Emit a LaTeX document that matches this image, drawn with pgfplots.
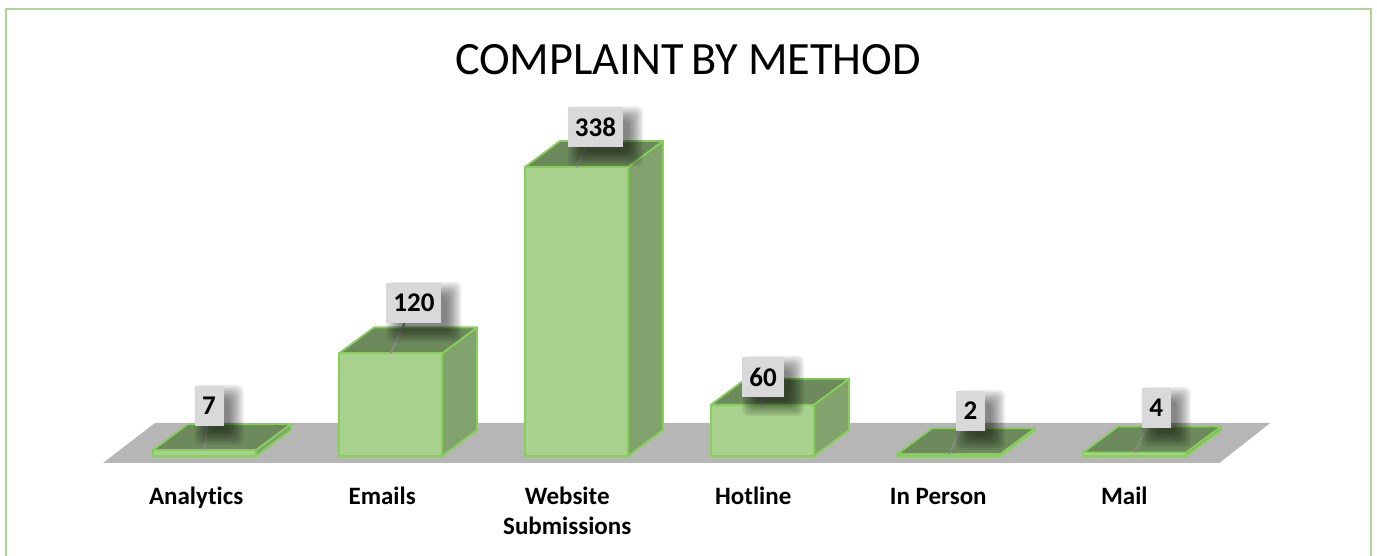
\documentclass[border=0pt]{standalone}
\usepackage{fontspec}
\setmainfont{Carlito}[Ligatures=NoCommon]
\usepackage{pgfplots}
\usepackage{pgfplotstable}
\pgfplotsset{compat=1.18}
\definecolor{frontc}{HTML}{A9D18E}
\definecolor{sidec}{HTML}{83A36E}
\definecolor{topc}{HTML}{6D8A5D}
\definecolor{edgec}{HTML}{86CF58}
\definecolor{floorc}{HTML}{B6B6B6}
\definecolor{labelc}{HTML}{D9D9D9}
\definecolor{framec}{HTML}{AFD596}
\definecolor{leaderc}{HTML}{8A8A8A}
\pgfplotstableread{
x v
0 7
1 120
2 338
3 60
4 2
5 4
}\bars
\pgfplotstableread{
x y lab
0.0242 58.5 7
1.126 178.9 120
2.102 384.2 338
3.003 92.4 60
4.118 52.6 2
5.116 56.1 4
}\labs
\pgfplotsset{
  face/.style={draw=edgec,line width=1.8pt,line join=round},
  leader/.style={draw=leaderc,line width=1.5pt,mark=none}
}
\newcommand{\shadowlayer}[1]{%
  \addplot[draw=none,mark=none,point meta=explicit symbolic,
    nodes near coords={\phantom{\pgfplotspointmeta}},
    every node near coord/.append style={anchor=center,font=\fontsize{27}{28}\selectfont\bfseries,
      fill=black,fill opacity=0.08,text opacity=0,rounded corners=6pt,xshift=10pt,yshift=-9pt,
      minimum height={40pt+2*(#1)},minimum width={29pt+2*(#1)},inner xsep={7pt+(#1)},inner ysep=0pt}]
    table[x=x,y=y,meta=lab] {\labs};}
\begin{document}
\begin{tikzpicture}
\path[use as bounding box] (-6pt,4pt) rectangle (1371pt,560pt);
\begin{axis}[
  at={(0pt,0pt)},anchor=south west,
  scale only axis,width=1365pt,height=551pt,
  xmin=-1.0672,xmax=6.2715,ymin=-121.64,ymax=522.8,
  axis line style={draw=framec,line width=2.5pt},
  xtick={-0.045,0.955,1.95,2.95,3.945,4.945},
  xticklabels={Analytics\strut,Emails\strut,{Website\strut\\Submissions\strut},Hotline\strut,In Person\strut,Mail\strut},
  xticklabel style={font=\fontsize{25}{30}\selectfont\bfseries,align=center,yshift=80pt,text=black},
  ytick=\empty,
  major tick length=0pt,
  title={COMPLAINT\kern-3pt\ BY METHOD},
  title style={at={(0.4996,0.897)},anchor=center,font=\fontsize{46.3}{48}\selectfont},
]
% floor
\addplot[fill=floorc,draw=none] coordinates {(-0.5457,-8.19) (5.4556,-8.19) (5.7298,38.6) (-0.2661,38.6)} -- cycle;
% depth faces
\addplot[face,fill=sidec] coordinates {(0.277,0) (0.465,30.4) (0.465,37.4) (0.277,7)} -- cycle;
\addplot[face,fill=topc] coordinates {(-0.277,7) (0.277,7) (0.465,37.4) (-0.089,37.4)} -- cycle;
\addplot[face,fill=sidec] coordinates {(1.277,0) (1.465,30.4) (1.465,150.4) (1.277,120)} -- cycle;
\addplot[face,fill=topc] coordinates {(0.723,120) (1.277,120) (1.465,150.4) (0.911,150.4)} -- cycle;
\addplot[face,fill=sidec] coordinates {(2.277,0) (2.465,30.4) (2.465,368.4) (2.277,338)} -- cycle;
\addplot[face,fill=topc] coordinates {(1.723,338) (2.277,338) (2.465,368.4) (1.911,368.4)} -- cycle;
\addplot[face,fill=sidec] coordinates {(3.277,0) (3.465,30.4) (3.465,90.4) (3.277,60)} -- cycle;
\addplot[face,fill=topc] coordinates {(2.723,60) (3.277,60) (3.465,90.4) (2.911,90.4)} -- cycle;
\addplot[face,fill=sidec] coordinates {(4.277,0) (4.465,30.4) (4.465,32.4) (4.277,2)} -- cycle;
\addplot[face,fill=topc] coordinates {(3.723,2) (4.277,2) (4.465,32.4) (3.911,32.4)} -- cycle;
\addplot[face,fill=sidec] coordinates {(5.277,0) (5.465,30.4) (5.465,34.4) (5.277,4)} -- cycle;
\addplot[face,fill=topc] coordinates {(4.723,4) (5.277,4) (5.465,34.4) (4.911,34.4)} -- cycle;
% front faces
\addplot[face,ybar,bar shift=0pt,bar width=103pt,fill=frontc] table[x=x,y=v] {\bars};
% blurred shadows of the data labels
\shadowlayer{10pt}\shadowlayer{8pt}\shadowlayer{6pt}\shadowlayer{4pt}
\shadowlayer{2pt}\shadowlayer{0pt}\shadowlayer{-2pt}\shadowlayer{-4pt}
% leader lines
\addplot[leader] coordinates {(0,7) (0.0242,58.5)};
\addplot[leader] coordinates {(1,120) (1.126,178.9)};
\addplot[leader] coordinates {(2,338) (2.102,384.2)};
\addplot[leader] coordinates {(3,60) (3.003,92.4)};
\addplot[leader] coordinates {(4,2) (4.118,52.6)};
\addplot[leader] coordinates {(5,4) (5.116,56.1)};
% data labels
\addplot[draw=none,mark=none,point meta=explicit symbolic,
  nodes near coords={\pgfplotspointmeta},
  every node near coord/.append style={anchor=center,font=\fontsize{27}{28}\selectfont\bfseries,
    fill=labelc,text=black,minimum height=40pt,minimum width=29pt,inner xsep=7pt,inner ysep=0pt}]
  table[x=x,y=y,meta=lab] {\labs};
\end{axis}
\end{tikzpicture}
\end{document}
